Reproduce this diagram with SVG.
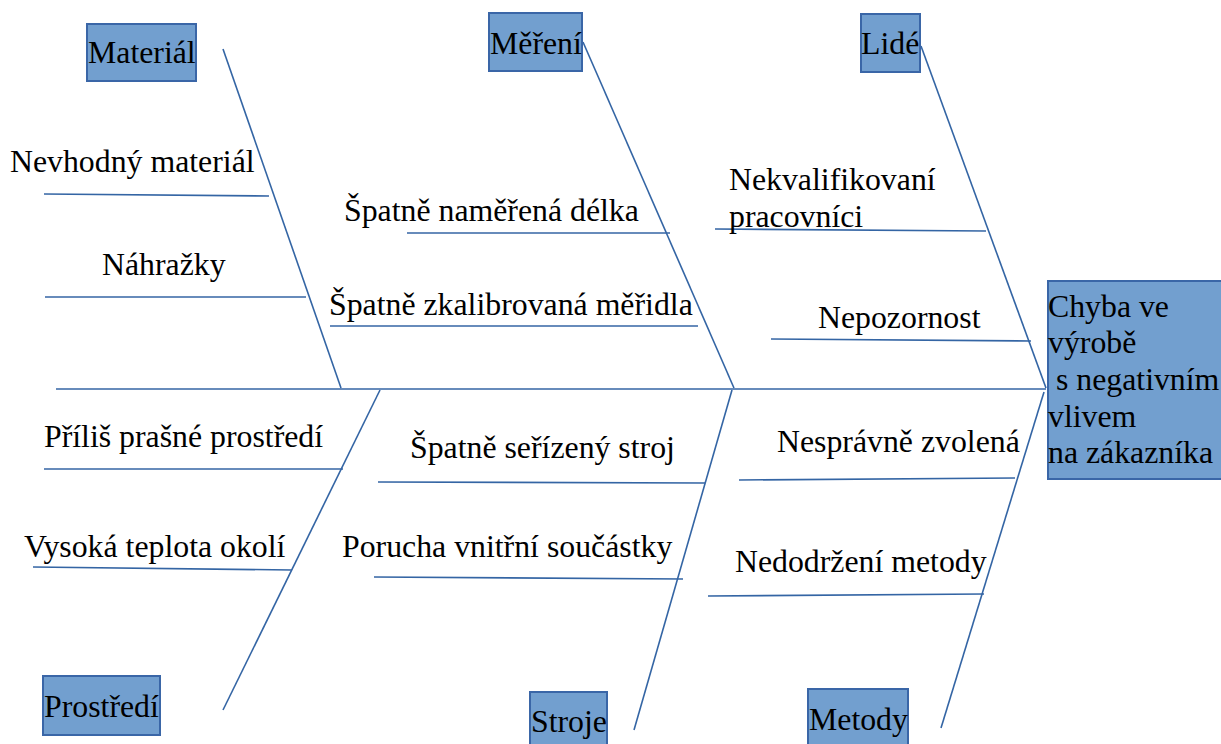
<svg xmlns="http://www.w3.org/2000/svg" width="1221" height="744" viewBox="0 0 1221 744">
<style>
.t{font-family:"Liberation Serif","Times New Roman",serif;font-size:31.8px;fill:#000}
.box{fill:#729fcf;stroke:#3a66a7;stroke-width:2}
.ln{stroke:#3465a4;stroke-width:1.6;fill:none}
</style>
<rect width="1221" height="744" fill="#fff"/>
<g id="connectors">
<line class="ln" x1="56" y1="389" x2="1046" y2="389"/>
<line class="ln" x1="223" y1="49" x2="341" y2="388"/>
<line class="ln" x1="583" y1="42" x2="734" y2="388"/>
<line class="ln" x1="921" y1="46" x2="1046" y2="388"/>
<line class="ln" x1="380" y1="390" x2="223" y2="710"/>
<line class="ln" x1="732" y1="390" x2="634" y2="730"/>
<line class="ln" x1="1044" y1="392" x2="941" y2="728"/>
<line class="ln" x1="44" y1="194" x2="269" y2="196"/>
<line class="ln" x1="45" y1="297" x2="306" y2="297"/>
<line class="ln" x1="407" y1="233" x2="670" y2="233"/>
<line class="ln" x1="330" y1="326" x2="698" y2="326"/>
<line class="ln" x1="715" y1="229" x2="986" y2="231"/>
<line class="ln" x1="771" y1="339" x2="1031" y2="341"/>
<line class="ln" x1="44" y1="469" x2="343" y2="469"/>
<line class="ln" x1="33" y1="567" x2="292" y2="570"/>
<line class="ln" x1="378" y1="482" x2="705" y2="483"/>
<line class="ln" x1="374" y1="577" x2="683" y2="579"/>
<line class="ln" x1="739" y1="480" x2="1015" y2="478"/>
<line class="ln" x1="708" y1="596" x2="984" y2="594"/>
</g>
<g id="material"><rect class="box" x="87" y="24" width="109" height="57"/><text class="t" x="88" y="63">Materiál</text></g>
<g id="mereni"><rect class="box" x="489" y="13" width="93" height="58"/><text class="t" x="490" y="54">Měření</text></g>
<g id="lide"><rect class="box" x="861" y="14" width="59" height="58"/><text class="t" x="861" y="54">Lidé</text></g>
<g id="prostredi"><rect class="box" x="43" y="676" width="117" height="59"/><text class="t" x="44" y="717">Prostředí</text></g>
<g id="stroje"><rect class="box" x="530" y="692" width="77" height="60"/><text class="t" x="531" y="732">Stroje</text></g>
<g id="metody"><rect class="box" x="808" y="689" width="100" height="60"/><text class="t" x="809" y="730">Metody</text></g>
<g id="effect"><rect class="box" x="1048" y="281" width="180" height="198"/>
<text class="t" x="1048" y="317">Chyba ve</text>
<text class="t" x="1048" y="353">výrobě</text>
<text class="t" x="1048" y="390" xml:space="preserve"> s negativním</text>
<text class="t" x="1048" y="427">vlivem</text>
<text class="t" x="1048" y="463">na zákazníka</text></g>
<g id="cause-nevhodny"><text class="t" x="10" y="172">Nevhodný materiál</text></g>
<g id="cause-nahrazky"><text class="t" x="102" y="275">Náhražky</text></g>
<g id="cause-namerena"><text class="t" x="344" y="221">Špatně naměřená délka</text></g>
<g id="cause-zkalibrovana"><text class="t" x="329" y="315">Špatně zkalibrovaná měřidla</text></g>
<g id="cause-nekvalifikovani"><text class="t" x="729" y="190">Nekvalifikovaní</text><text class="t" x="729" y="227">pracovníci</text></g>
<g id="cause-nepozornost"><text class="t" x="818" y="328">Nepozornost</text></g>
<g id="cause-prasne"><text class="t" x="44" y="447">Příliš prašné prostředí</text></g>
<g id="cause-teplota"><text class="t" x="24" y="557">Vysoká teplota okolí</text></g>
<g id="cause-serizeny"><text class="t" x="410" y="458">Špatně seřízený stroj</text></g>
<g id="cause-porucha"><text class="t" x="342" y="557">Porucha vnitřní součástky</text></g>
<g id="cause-nespravne"><text class="t" x="777" y="452">Nesprávně zvolená</text></g>
<g id="cause-nedodrzeni"><text class="t" x="735" y="572">Nedodržení metody</text></g>
</svg>
